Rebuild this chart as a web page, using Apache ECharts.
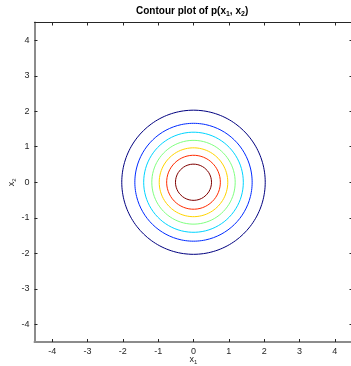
<!DOCTYPE html>
<html><head><meta charset="utf-8">
<script src="https://cdn.jsdelivr.net/npm/echarts@6/dist/echarts.min.js"></script>
<style>html,body{margin:0;padding:0;background:#fff}#c{width:351px;height:366px}</style>
</head><body><div id="c"></div>
<script>
// Contour radii (outer to inner), levels 1/8..7/8 of peak
var contourRadii = [2.03, 1.66, 1.41, 1.18, 0.97, 0.76, 0.51];
var contourColors = ['#00007f', '#002bff', '#00d4ff', '#80ff80', '#ffd400', '#ff2b00', '#7f0000'];
var tickValues = [-4, -3, -2, -1, 0, 1, 2, 3, 4];
var axisMin = -4.5, axisMax = 4.5;

var font = 'Liberation Sans, Arial, Helvetica, sans-serif';
var axCol = '#262626';

function circle(r) {
  var pts = [];
  for (var i = 0; i <= 360; i += 2) {
    var a = i * Math.PI / 180;
    pts.push([r * Math.cos(a), r * Math.sin(a)]);
  }
  return pts;
}

var series = contourRadii.map(function (r, i) {
  return {
    type: 'line', xAxisIndex: 0, yAxisIndex: 0,
    data: circle(r), showSymbol: false, symbol: 'none', smooth: false,
    lineStyle: { color: contourColors[i], width: 1 },
    silent: true, animation: false
  };
});

function baseAxis(extra) {
  var o = {
    type: 'value', min: axisMin, max: axisMax,
    splitLine: { show: false },
    axisLine: { show: true, onZero: false, lineStyle: { color: axCol, width: 1 } },
    axisTick: { show: true, inside: true, length: 3, customValues: tickValues, lineStyle: { color: axCol } },
    axisLabel: { show: true, customValues: tickValues, color: axCol, fontFamily: font, fontSize: 9, margin: 5 }
  };
  for (var k in extra) o[k] = extra[k];
  return o;
}

var subRich = {
  sub: { fontSize: 6, fontFamily: font, color: axCol, padding: [5, 0, 0, 0] }
};

var option = {
  animation: false,
  backgroundColor: '#fff',
  title: {
    text: 'Contour plot of p(x{s|1}, x{s|2})',
    left: 136, top: 5, padding: 0,
    textStyle: {
      fontFamily: font, fontSize: 10, fontWeight: 'bold', color: '#000',
      rich: { s: { fontSize: 7, fontWeight: 'bold', fontFamily: font, color: '#000', padding: [6, 0, 0, 0] } }
    }
  },
  grid: { left: 34.5, top: 22.5, width: 318, height: 319.5, containLabel: false, outerBoundsMode: 'none' },
  xAxis: [
    baseAxis({
      position: 'bottom',
      axisLine: { show: true, onZero: false, lineStyle: { color: '#8c8c8c', width: 2 } },
      name: 'x{sub|1}', nameLocation: 'middle', nameGap: 12, nameMoveOverlap: false,
      nameTextStyle: { fontFamily: font, fontSize: 9, color: axCol, rich: subRich }
    }),
    baseAxis({ position: 'top', axisLabel: { show: false } })
  ],
  yAxis: [
    baseAxis({
      position: 'left',
      axisLine: { show: true, onZero: false, lineStyle: { color: '#8c8c8c', width: 2 } },
      name: 'x{sub|2}', nameLocation: 'middle', nameGap: 17, nameRotate: 90, nameMoveOverlap: false,
      nameTextStyle: { fontFamily: font, fontSize: 9, color: axCol, rich: subRich }
    }),
    baseAxis({ position: 'right', axisLabel: { show: false } })
  ],
  series: series
};

var chart = echarts.init(document.getElementById('c'), null, { renderer: 'canvas' });
chart.setOption(option);
</script>
</body></html>
